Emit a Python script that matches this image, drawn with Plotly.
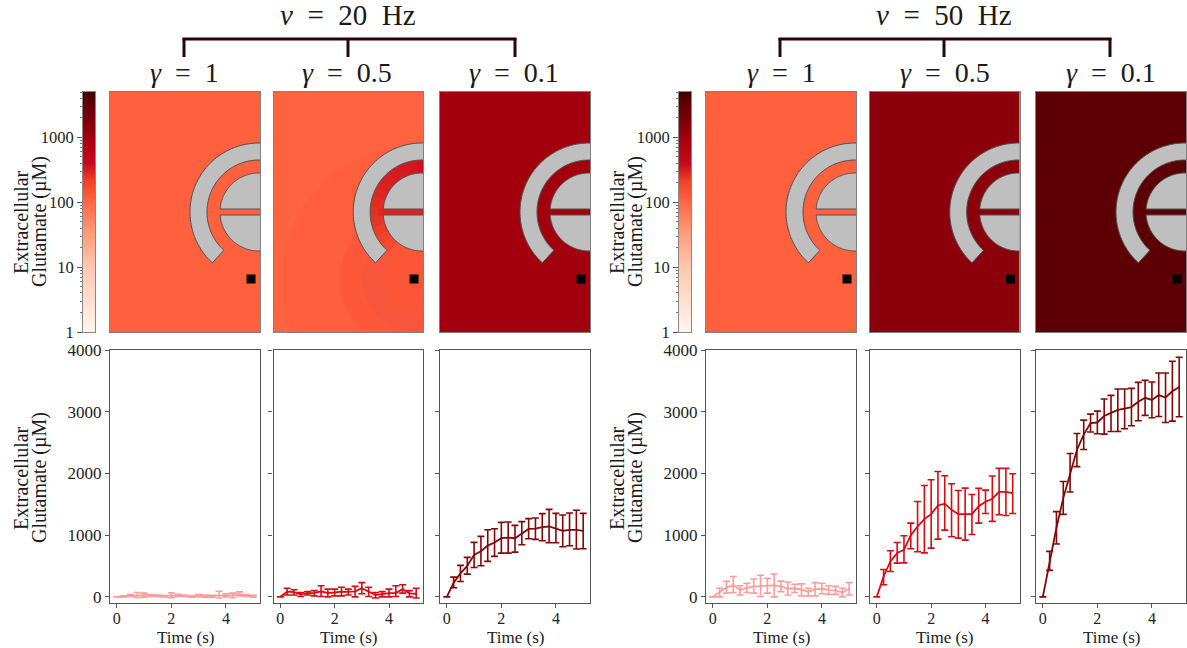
import numpy as np
import plotly.graph_objects as go
from plotly.colors import sample_colorscale

W, H = 1187, 648

# ---------- data ----------
TIME = [0, .25, .5, .75, 1, 1.25, 1.5, 1.75, 2, 2.25, 2.5, 2.75, 3, 3.25, 3.5, 3.75, 4, 4.25, 4.5, 4.75, 5]

m_20_1 = [0, 8, 22, 30, 28, 22, 15, 10, 25, 22, 15, 5, 15, 15, 10, 25, 25, 25, 45, 20, 10]
h_20_1 = [0, 15, 35, 70, 60, 35, 28, 20, 65, 40, 30, 12, 35, 30, 25, 90, 50, 60, 80, 35, 25]
l_20_1 = [0, 0, 5, -10, -5, 5, 5, 0, -15, 5, 5, -5, 0, -5, -8, -20, 0, -15, 15, 5, -5]

m_20_5 = [0, 85, 75, 40, 60, 60, 90, 60, 70, 85, 80, 90, 140, 80, 30, 45, 60, 60, 125, 55, 50]
h_20_5 = [0, 140, 115, 70, 85, 100, 180, 125, 125, 155, 125, 170, 230, 155, 70, 85, 125, 180, 195, 100, 140]
l_20_5 = [0, 30, 30, 5, 30, 15, 5, 0, 15, 15, 30, 0, 50, 5, -20, 0, 0, 5, 60, 0, -20]

m_20_01 = [0, 230, 380, 500, 680, 740, 830, 880, 950, 960, 950, 1030, 1100, 1105, 1130, 1140, 1110, 1070, 1085, 1085, 1070]
h_20_01 = [0, 319, 509, 639, 882, 980, 1088, 1104, 1207, 1213, 1158, 1218, 1267, 1278, 1348, 1418, 1353, 1326, 1359, 1402, 1353]
l_20_01 = [0, 146, 249, 368, 476, 503, 574, 655, 709, 709, 725, 845, 942, 931, 909, 877, 877, 812, 828, 774, 780]

m_50_1 = [0, 70, 150, 190, 110, 145, 170, 175, 175, 185, 170, 135, 135, 115, 80, 120, 135, 110, 105, 70, 130]
h_50_1 = [0, 140, 250, 330, 180, 220, 290, 350, 300, 370, 255, 240, 205, 210, 140, 230, 220, 180, 170, 140, 230]
l_50_1 = [0, 0, 60, 70, 30, 70, 60, 5, 60, 0, 85, 30, 70, 15, 15, 15, 50, 40, 40, 0, 30]

m_50_5 = [0, 330, 573, 710, 760, 1000, 1140, 1260, 1340, 1480, 1510, 1410, 1340, 1340, 1340, 1470, 1540, 1590, 1700, 1700, 1680]
h_50_5 = [0, 443, 746, 881, 990, 1195, 1546, 1805, 1897, 2032, 1962, 1832, 1724, 1762, 1659, 1757, 1730, 1957, 2081, 2081, 1995]
l_50_5 = [0, 195, 411, 546, 551, 779, 730, 713, 789, 935, 1081, 973, 951, 919, 1011, 1195, 1351, 1222, 1330, 1319, 1351]

m_50_01 = [0, 580, 1120, 1600, 2010, 2380, 2630, 2815, 2825, 2930, 2980, 3030, 3050, 3075, 3160, 3225, 3190, 3270, 3230, 3330, 3400]
h_50_01 = [0, 736, 1380, 1868, 2322, 2647, 2864, 2961, 3010, 3205, 3265, 3367, 3367, 3378, 3476, 3508, 3481, 3627, 3627, 3817, 3882]
l_50_01 = [0, 428, 855, 1337, 1700, 2110, 2388, 2670, 2643, 2637, 2680, 2680, 2723, 2772, 2853, 2940, 2902, 2923, 2826, 2848, 2918]

GAMMA_LABELS = ["1", "0.5", "0.1"]
NU_LABELS = ["20", "50"]
BACKGROUND_UM = [110, 105, 1000, 110, 1400, 3500]      # extracellular glutamate in each map
CHANNEL_20_05 = [350, 340, 330, 320, 310, 300, 285, 270, 255, 240, 225, 200, 175, 140]  # gamma 0.5 channel, top to tip
STRIP_20_05 = 290
CB_TICKS = [1, 10, 100, 1000]
Y_TICKS = [0, 1000, 2000, 3000, 4000]
X_TICKS = [0, 2, 4]

# ---------- style ----------
LOG_MAX = np.log10(5000)
COLORSCALE = [[0, "#fff5f0"], [.27, "#ffc8b0"], [.42, "#ff9a78"], [.552, "#ff613f"], [.63, "#f04028"],
              [.70, "#c80a1c"], [.81, "#a4000d"], [.85, "#8c000c"], [.958, "#5c0005"], [1, "#400000"]]
LINE_COLORS = ["#ff9c9c", "#d80a12", "#820808"]
SERIF = "Liberation Serif"
TXT = "#222222"
FRAME = "#555555"
GRAY = "#bfbfbf"
OUTLINE = "#505050"

def um_color(v):
    return sample_colorscale(COLORSCALE, [np.log10(v) / LOG_MAX])[0]

# pixel layout
PX = [(110, 260), (273.5, 423), (440, 590), (706, 856), (870, 1019.5), (1036, 1186)]
TOP_Y = (92, 332)
BOT_Y = (350, 603)
CB_X = [(83, 95), (679, 691)]

def dx(a, b): return [a / W, b / W]
def dy(a, b): return [1 - b / H, 1 - a / H]

fig = go.Figure()
layout = dict(
    width=W, height=H, margin=dict(l=0, r=0, t=0, b=0, autoexpand=False), autosize=False,
    paper_bgcolor="white", plot_bgcolor="white", showlegend=False,
    font=dict(family=SERIF, color=TXT, size=16),
)
shapes, annotations = [], []
n = 0

def new_axes():
    global n
    n += 1
    return n, ("x" if n == 1 else f"x{n}"), ("y" if n == 1 else f"y{n}"), f"xaxis{n}", f"yaxis{n}"

def arc(r, a0, a1, cx=149, cy=120, steps=60):
    t = np.radians(np.linspace(a0, a1, steps))
    return cx + r * np.cos(t), cy + r * np.sin(t)

def poly(xs, ys):
    return "M " + " L ".join(f"{x:.2f},{y:.2f}" for x, y in zip(xs, ys)) + " Z"

def add_geometry(xr, yr, graded):
    base = dict(xref=xr, yref=yr, type="path", layer="above")
    if graded:
        # faint concentration contours around the release site
        for r, col in [(133, "#ff5f3d"), (74, "#fe583a"), (52, "#f8563a"), (32, "#fb5538")]:
            shapes.append(dict(xref=xr, yref=yr, type="circle", x0=141 - r, x1=141 + r, y0=53 - r, y1=53 + r,
                               fillcolor=col, line_width=0, layer="above"))
        edges = np.linspace(90 - 6, 227.5 + 14, len(CHANNEL_20_05) + 1)
        for i, v in enumerate(CHANNEL_20_05):
            xo, yo = arc(52.5, edges[i], edges[i + 1] + 1, steps=10)
            xi, yi = arc(38.5, edges[i + 1] + 1, edges[i], steps=10)
            shapes.append(dict(base, path=poly(np.r_[xo, xi], np.r_[yo, yi]), fillcolor=um_color(v), line_width=0))
        shapes.append(dict(base, path=poly([105, 152, 152, 105], [116.5, 116.5, 123.5, 123.5]),
                           fillcolor=um_color(STRIP_20_05), line_width=0))
    # outer C-shaped process
    xo, yo = arc(69, 227.5, 84)
    xi, yi = arc(52, 84, 227.5)
    shapes.append(dict(base, path=poly(np.r_[xo, xi], np.r_[yo, yi]), fillcolor=GRAY, line=dict(color=OUTLINE, width=1)))
    # inner half discs
    gap = 3
    a = np.degrees(np.arcsin(gap / 39))
    xt, yt = arc(39, 180 - a, 84)
    shapes.append(dict(base, path=poly(np.r_[xt, 155], np.r_[yt, 120 + gap]), fillcolor=GRAY, line=dict(color=OUTLINE, width=1)))
    xb, yb = arc(39, 180 + a, 276)
    shapes.append(dict(base, path=poly(np.r_[xb, 155], np.r_[yb, 120 - gap]), fillcolor=GRAY, line=dict(color=OUTLINE, width=1)))
    # recording site
    shapes.append(dict(xref=xr, yref=yr, type="rect", x0=136.5, x1=145.5, y0=48.5, y1=57.5,
                       fillcolor="black", line_width=0, layer="above"))

def text(x, y, s, size, angle=0):
    annotations.append(dict(x=x / W, y=1 - y / H, xref="paper", yref="paper", text=s, showarrow=False, textangle=angle,
                            xanchor="center", yanchor="middle", font=dict(family=SERIF, size=size, color="#1a1a1a")))

# ---------- colour bars ----------
for cb in CB_X:
    i, xr, yr, xa, ya = new_axes()
    levels = np.logspace(0, LOG_MAX, 240)
    fig.add_trace(go.Heatmap(x=[0, 1], y=levels, z=np.log10(levels)[:, None].repeat(2, axis=1), xaxis=xr, yaxis=yr,
                             colorscale=COLORSCALE, zmin=0, zmax=LOG_MAX, showscale=False, hoverinfo="skip"))
    layout[xa] = dict(domain=dx(*cb), anchor=yr, range=[0, 1], showticklabels=False, ticks="", showgrid=False,
                      zeroline=False, showline=True, mirror=True, linecolor="#888888", linewidth=1, automargin=False)
    minor_vals = [k * 10 ** d for d in range(4) for k in range(2, 10) if k * 10 ** d <= 5000]
    layout[ya] = dict(domain=dy(*TOP_Y), anchor=xr, type="log", range=[0, LOG_MAX], tickmode="array", tickvals=CB_TICKS,
                      ticktext=[str(t) for t in CB_TICKS], ticks="outside", ticklen=5, tickcolor=FRAME, tickwidth=1,
                      minor=dict(tickmode="array", tickvals=minor_vals, ticks="outside", ticklen=2.5, tickcolor="#777777", tickwidth=0.7),
                      showgrid=False, zeroline=False, showline=True, mirror=True, linecolor="#888888", linewidth=1,
                      tickfont=dict(family=SERIF, size=16.5, color=TXT), automargin=False)

# ---------- concentration maps ----------
for k, (px, v) in enumerate(zip(PX, BACKGROUND_UM)):
    i, xr, yr, xa, ya = new_axes()
    fig.add_trace(go.Heatmap(x=[0, 150], y=[0, 240], z=[[np.log10(v)] * 2] * 2, xaxis=xr, yaxis=yr,
                             colorscale=COLORSCALE, zmin=0, zmax=LOG_MAX, showscale=False, hoverinfo="skip"))
    for ax, dom, rng in ((xa, dx(*px), [0, 150]), (ya, dy(*TOP_Y), [0, 240])):
        layout[ax] = dict(domain=dom, anchor=yr if ax == xa else xr, range=rng, showticklabels=False, ticks="",
                          showgrid=False, zeroline=False, showline=True, mirror=True, linecolor="#808080", linewidth=1,
                          automargin=False)
    add_geometry(xr, yr, graded=(k == 1))

# ---------- time courses ----------
SERIES = [(m_20_1, h_20_1, l_20_1), (m_20_5, h_20_5, l_20_5), (m_20_01, h_20_01, l_20_01),
          (m_50_1, h_50_1, l_50_1), (m_50_5, h_50_5, l_50_5), (m_50_01, h_50_01, l_50_01)]
for k, (px, (m, h, l)) in enumerate(zip(PX, SERIES)):
    i, xr, yr, xa, ya = new_axes()
    m, h, l = map(np.array, (m, h, l))
    col = LINE_COLORS[k % 3]
    fig.add_trace(go.Scatter(x=TIME, y=m, mode="lines", xaxis=xr, yaxis=yr, line=dict(color=col, width=1.8),
                             error_y=dict(type="data", symmetric=False, array=h - m, arrayminus=m - l,
                                          color=col, thickness=1.6, width=3.5)))
    layout[xa] = dict(domain=dx(*px), anchor=yr, range=[-.25, 5.25], tickmode="array", tickvals=X_TICKS, ticks="outside",
                      ticklen=4, tickcolor=FRAME, tickwidth=1, showgrid=False, zeroline=False, showline=True, mirror=True,
                      linecolor=FRAME, linewidth=1.3, tickfont=dict(family=SERIF, size=16, color=TXT), automargin=False,
                      ticklabelstandoff=-3)
    layout[ya] = dict(domain=dy(*BOT_Y), anchor=xr, range=[-100, 4000], tickmode="array", tickvals=Y_TICKS, ticks="outside",
                      ticklen=4, tickcolor=FRAME, tickwidth=1, showgrid=False, zeroline=False, showline=True, mirror=True,
                      linecolor=FRAME, linewidth=1.3, showticklabels=(k % 3 == 0), automargin=False,
                      tickfont=dict(family=SERIF, size=17, color=TXT))
    text(sum(px) / 2, 637, "Time (s)", 17)

# ---------- headings, brackets, side labels ----------
EQ = "\u2002=\u2002"
for nu, (x_left, x_mid, x_right) in zip(NU_LABELS, [(184, 348, 515), (780, 944, 1110)]):
    text(x_mid, 15, f"<i>ν</i>{EQ}{nu}\u2002Hz", 29)
    for xx in (x_left, x_mid, x_right):
        shapes.append(dict(type="line", xref="paper", yref="paper", x0=xx / W, x1=xx / W, y0=1 - 38 / H, y1=1 - 57 / H,
                           line=dict(color="#2b0505", width=3)))
    shapes.append(dict(type="line", xref="paper", yref="paper", x0=(x_left - 1.5) / W, x1=(x_right + 1.5) / W,
                       y0=1 - 39 / H, y1=1 - 39 / H, line=dict(color="#2b0505", width=3)))

for g, px in zip(GAMMA_LABELS * 2, PX):
    text(sum(px) / 2 - (1 if px[0] < 600 else 0), 73, f"<i>γ</i>{EQ}{g}", 28)

for x0, ys in ((0, (222, 478)), (596, (222, 478))):
    for y in ys:
        text(x0 + 21, y, "Extracellular", 20, -90)
        text(x0 + 40, y, "Glutamate (µM)", 20, -90)

layout["shapes"] = shapes
layout["annotations"] = annotations
fig.update_layout(**layout)
fig.write_html("out.html", config={"displayModeBar": False}, post_script="document.body.style.margin='0';")
